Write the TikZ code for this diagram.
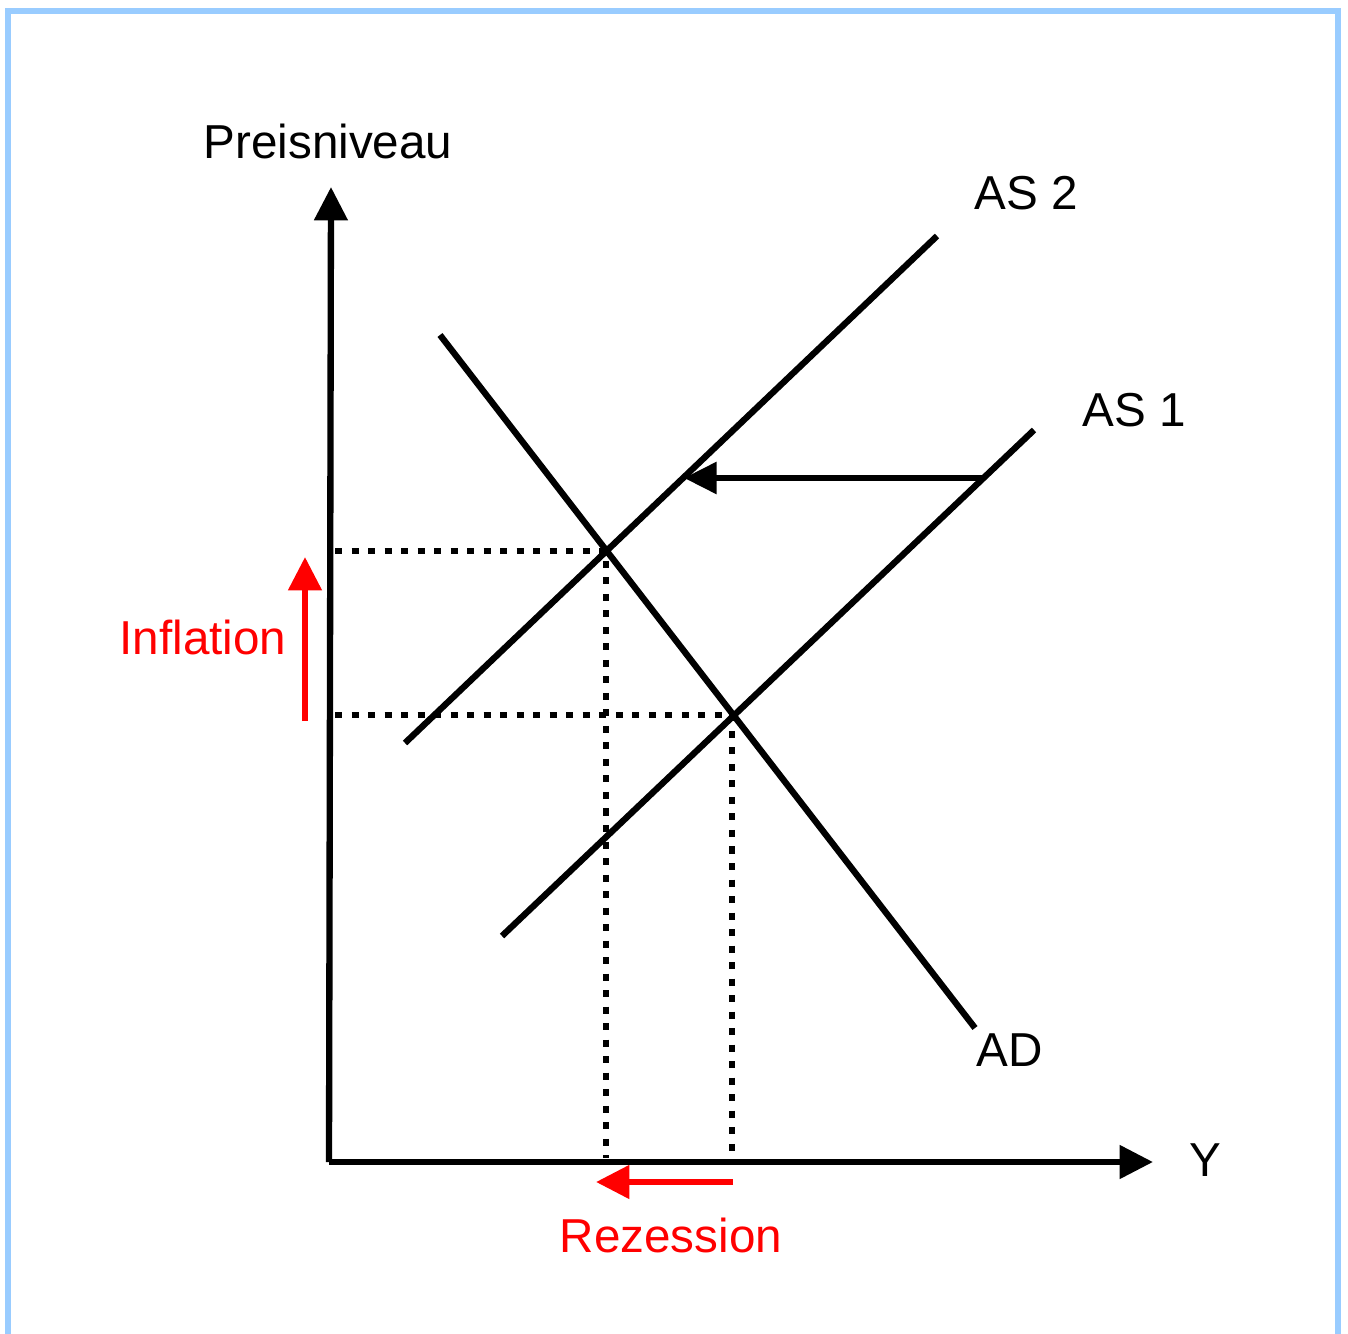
\documentclass[tikz,border=0pt]{standalone}
\usepackage{fontspec}
\setmainfont{Liberation Sans}
\usepackage{xcolor}
\usetikzlibrary{arrows.meta,positioning,calc}
\definecolor{frameblue}{HTML}{99CCFF}

\begin{document}
\begin{tikzpicture}[x=0.02cm,y=-0.02cm,
  >={Triangle[length=19pt,width=18.5pt]},
  lbl/.style={inner sep=0pt,font=\fontsize{27.1}{32}\selectfont},
  curve/.style={line width=3.6pt},
  guide/.style={line width=3.6pt,dash pattern=on 4pt off 5.4pt},
  effect/.style={line width=3.6pt,red,->}]
\useasboundingbox (0,0) rectangle (1348,1334);
% frame, open at the bottom
\draw[frameblue,line width=3.4pt] (8,1340) -- (8,11) -- (1338,11) -- (1338,1340);
% axes
\coordinate (O) at (329,1162);
\coordinate (ytop) at (331,187);
\coordinate (xend) at (1153,1162);
\draw[curve,->] (O) -- (ytop);
\draw[curve,->] (O) -- (xend);
\node[lbl] (plab) at (328,141) {Preisniveau};
\node[lbl] (ylab) at (1205,1160) {Y};
% curves
\coordinate (as2a) at (405,743);
\coordinate (as2b) at (937,236);
\coordinate (as1a) at (502,936);
\coordinate (as1b) at (1034,430);
\coordinate (ada) at (440,335);
\coordinate (adb) at (975,1028);
\draw[curve] (as2a) -- (as2b);
\draw[curve] (as1a) -- (as1b);
\draw[curve] (ada) -- (adb);
\node[lbl] (as2) at (1026,193) {AS 2};
\node[lbl] (as1) at (1134,410) {AS 1};
\node[lbl] (ad) at (1010,1050) {AD};
% shift of supply
\coordinate (s1) at (983,478);
\coordinate (s2) at (684,478);
\draw[curve,->,>={Triangle[length=18.5pt,width=17.5pt]}] (s1) -- (s2);
% equilibria
\coordinate (e1) at (606,551);
\coordinate (e2) at (732,715);
\coordinate (p1) at (335,551);
\coordinate (p2) at (335,715);
\coordinate (y1) at (606,1158);
\coordinate (y2) at (732,1158);
\draw[guide] (p1) -- (e1) -- (y1);
\draw[guide] (p2) -- (e2) -- (y2);
% effects
\coordinate (ia) at (305,721);
\coordinate (ib) at (305,557);
\draw[effect] (ia) -- (ib);
\node[lbl,text=red] (infl) at (203,637) {Inflation};
\coordinate (ra) at (733,1182);
\coordinate (rb) at (596,1182);
\draw[effect] (ra) -- (rb);
\node[lbl,text=red] (rez) at (671,1235) {Rezession};
\end{tikzpicture}
\end{document}
